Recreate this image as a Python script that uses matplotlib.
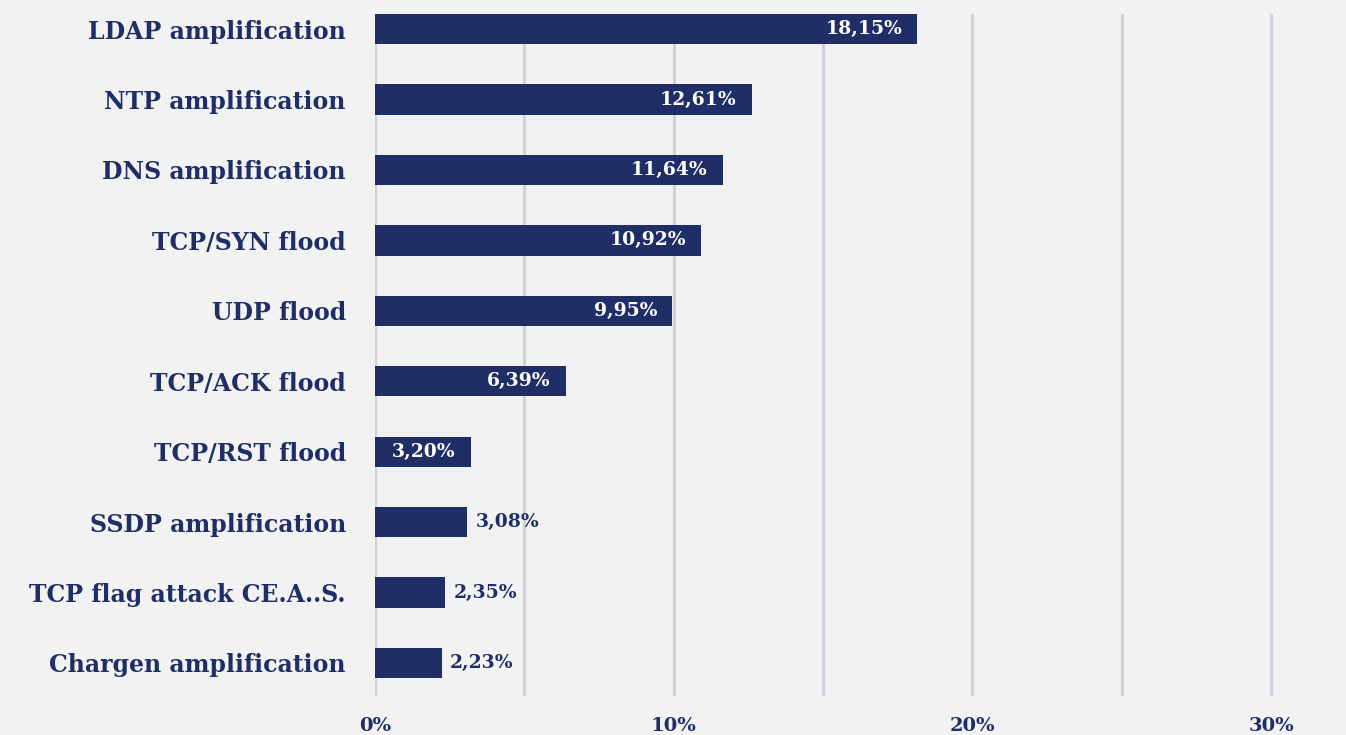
import matplotlib.pyplot as plt
from matplotlib.ticker import FuncFormatter

# data
categories = ['LDAP amplification', 'NTP amplification', 'DNS amplification',
              'TCP/SYN flood', 'UDP flood', 'TCP/ACK flood', 'TCP/RST flood',
              'SSDP amplification', 'TCP flag attack CE.A..S.',
              'Chargen amplification']
values = [18.15, 12.61, 11.64, 10.92, 9.95, 6.39, 3.20, 3.08, 2.35, 2.23]
xticks = [0, 10, 20, 30]

navy = '#1f2e67'
bg = '#f2f2f2'
grid_col = '#d0d1dc'
font = 'DejaVu Serif'

W, H = 1346, 735
fig = plt.figure(figsize=(W / 100, H / 100), dpi=100, facecolor=bg)

# axes placement in pixels: x=0 at 375, 30 at 1271
px_per_unit = (1271 - 375) / 30
xmax = 32
ax_left, ax_top, ax_bottom = 375, 14, 696
ax = fig.add_axes([ax_left / W, 1 - ax_bottom / H,
                   xmax * px_per_unit / W, (ax_bottom - ax_top) / H])
ax.set_facecolor(bg)

ypos = list(range(len(categories)))
ax.barh(ypos, values, height=0.43, color=navy, zorder=3)
ax.set_ylim(9.47, -0.215)
ax.set_xlim(0, xmax)

# vertical grid every 5%
for g in range(0, 31, 5):
    ax.axvline(g, color=grid_col, lw=2.2, zorder=1)

for s in ax.spines.values():
    s.set_visible(False)

ax.set_yticks(ypos)
ax.set_yticklabels(categories, fontfamily=font, fontweight='bold',
                   fontsize=17, color=navy)
ax.tick_params(axis='y', length=0, pad=21)

ax.set_xticks(xticks)
ax.xaxis.set_major_formatter(FuncFormatter(lambda v, p: f'{v:.0f}%'))
ax.tick_params(axis='x', length=0, pad=15, labelsize=14, labelcolor=navy)
for lbl in ax.get_xticklabels():
    lbl.set_fontfamily(font)
    lbl.set_fontweight('bold')

# value labels
for y, v in zip(ypos, values):
    txt = f'{v:.2f}%'.replace('.', ',')
    if v >= 3.2:
        ax.text(v - 0.5, y, txt, ha='right', va='center', color='white',
                fontfamily=font, fontweight='bold', fontsize=13.5, zorder=4)
    else:
        ax.text(v + 0.28, y, txt, ha='left', va='center', color=navy,
                fontfamily=font, fontweight='bold', fontsize=13.5, zorder=4)

fig.savefig('out.png', dpi=100, facecolor=bg)
